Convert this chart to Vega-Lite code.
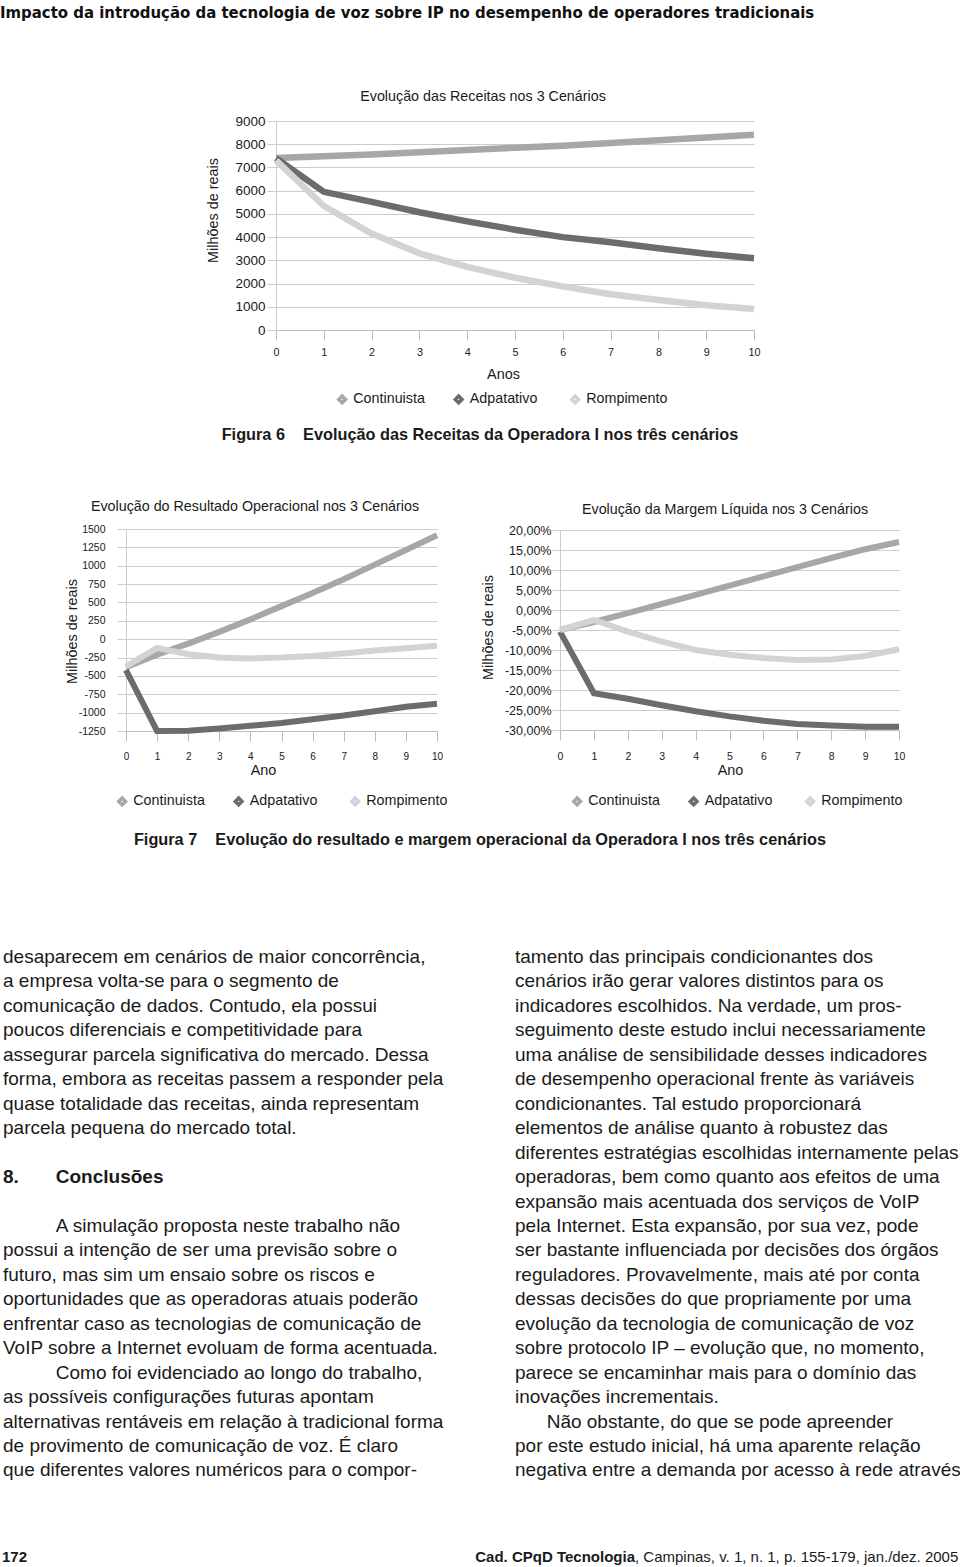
{
  "$schema": "https://vega.github.io/schema/vega-lite/v6.json",
  "padding": 0,
  "spacing": 0,
  "bounds": "flush",
  "resolve": {"scale": {"color": "independent"}, "legend": {"color": "independent"}},
  "config": {
    "view": {"stroke": null},
    "font": "Liberation Sans",
    "axis": {"labelFont": "Liberation Sans", "titleFont": "Liberation Sans", "labelColor": "#1a1a1a", "titleColor": "#1a1a1a", "titleFontWeight": "normal", "gridColor": "#cccccc", "domainColor": "#bdbdbd", "tickColor": "#bdbdbd", "labelFlush": false},
    "title": {"font": "Liberation Sans", "color": "#1a1a1a", "fontWeight": "normal"},
    "legend": {"orient": "none", "direction": "horizontal", "title": null, "symbolType": "diamond", "symbolSize": 45, "symbolStrokeWidth": 3.5, "labelFont": "Liberation Sans", "labelFontSize": 14.3, "labelColor": "#1a1a1a", "labelOffset": 4, "columnPadding": 12.5, "gridAlign": "all", "padding": 0}
  },
  "vconcat": [
    {
      "width": 960, "height": 121,
      "data": {"values": [{"t": ""}]},
      "mark": {"type": "text", "text": ""},
      "title": {"text": "Impacto da introdução da tecnologia de voz sobre IP no desempenho de operadores tradicionais", "anchor": "start", "frame": "group", "orient": "top", "offset": -22, "font": "Liberation Sans Narrow, DejaVu Sans Condensed, Liberation Sans", "fontSize": 16.6, "fontWeight": "bold", "color": "#111111"}
    },
    {
      "width": 960, "height": 209,
      "title": {"text": "Evolução das Receitas nos 3 Cenários", "anchor": "middle", "frame": "group", "offset": 10, "fontSize": 14.3, "dx": 3},
      "data": {"values": [
        {"cenario": "Continuista", "ano": 0, "valor": 7410}, {"cenario": "Continuista", "ano": 1, "valor": 7480}, {"cenario": "Continuista", "ano": 2, "valor": 7560}, {"cenario": "Continuista", "ano": 3, "valor": 7650}, {"cenario": "Continuista", "ano": 4, "valor": 7750}, {"cenario": "Continuista", "ano": 5, "valor": 7850}, {"cenario": "Continuista", "ano": 6, "valor": 7930}, {"cenario": "Continuista", "ano": 7, "valor": 8050}, {"cenario": "Continuista", "ano": 8, "valor": 8170}, {"cenario": "Continuista", "ano": 9, "valor": 8290}, {"cenario": "Continuista", "ano": 10, "valor": 8410},
        {"cenario": "Adpatativo", "ano": 0, "valor": 7400}, {"cenario": "Adpatativo", "ano": 1, "valor": 5950}, {"cenario": "Adpatativo", "ano": 2, "valor": 5520}, {"cenario": "Adpatativo", "ano": 3, "valor": 5070}, {"cenario": "Adpatativo", "ano": 4, "valor": 4680}, {"cenario": "Adpatativo", "ano": 5, "valor": 4320}, {"cenario": "Adpatativo", "ano": 6, "valor": 4000}, {"cenario": "Adpatativo", "ano": 7, "valor": 3780}, {"cenario": "Adpatativo", "ano": 8, "valor": 3520}, {"cenario": "Adpatativo", "ano": 9, "valor": 3280}, {"cenario": "Adpatativo", "ano": 10, "valor": 3090},
        {"cenario": "Rompimento", "ano": 0, "valor": 7300}, {"cenario": "Rompimento", "ano": 1, "valor": 5340}, {"cenario": "Rompimento", "ano": 2, "valor": 4150}, {"cenario": "Rompimento", "ano": 3, "valor": 3300}, {"cenario": "Rompimento", "ano": 4, "valor": 2720}, {"cenario": "Rompimento", "ano": 5, "valor": 2250}, {"cenario": "Rompimento", "ano": 6, "valor": 1880}, {"cenario": "Rompimento", "ano": 7, "valor": 1540}, {"cenario": "Rompimento", "ano": 8, "valor": 1290}, {"cenario": "Rompimento", "ano": 9, "valor": 1070}, {"cenario": "Rompimento", "ano": 10, "valor": 900}
      ]},
      "mark": {"type": "line", "strokeWidth": 6.5},
      "encoding": {
        "x": {"field": "ano", "type": "quantitative", "scale": {"domain": [0, 10], "range": [276, 754], "nice": false, "zero": false},
          "axis": {"values": [0, 1, 2, 3, 4, 5, 6, 7, 8, 9, 10], "title": "Anos", "grid": false, "tickSize": 10, "labelFontSize": 10.8, "labelPadding": 6, "titleFontSize": 14.4, "titleX": 503, "titleY": 44, "titleBaseline": "middle"}},
        "y": {"field": "valor", "type": "quantitative", "scale": {"domain": [0, 9000], "nice": false},
          "axis": {"values": [0, 1000, 2000, 3000, 4000, 5000, 6000, 7000, 8000, 9000], "labelExpr": "'' + datum.value", "offset": -276, "tickSize": 9, "tickColor": "#cccccc", "domainColor": "#cccccc", "labelFontSize": 13.5, "labelPadding": 2, "title": "Milhões de reais", "titleFontSize": 14.4, "titleX": -63, "titleY": 89, "titleBaseline": "middle", "titleAngle": -90}},
        "color": {"field": "cenario", "type": "nominal", "scale": {"domain": ["Continuista", "Adpatativo", "Rompimento"], "range": ["#a7a7a9", "#6c6c6e", "#d3d3d3"]},
          "legend": {"legendX": 335, "legendY": 271}}
      }
    },
    {
      "width": 960, "height": 199,
      "data": {"values": [{"t": ""}]},
      "mark": {"type": "text", "text": ""},
      "title": {"text": "Figura 6\u00a0\u00a0\u00a0\u00a0Evolução das Receitas da Operadora I nos três cenários", "anchor": "middle", "frame": "group", "orient": "top", "offset": -113, "fontSize": 16.3, "fontWeight": "bold"}
    },
    {
      "width": 960, "height": 202,
      "title": {"text": "Evolução do Resultado Operacional nos 3 Cenários", "anchor": "middle", "frame": "group", "offset": 9, "fontSize": 14.3, "dx": -225},
      "data": {"values": [
        {"cenario": "Continuista", "ano": 0, "valor": -380}, {"cenario": "Continuista", "ano": 1, "valor": -210}, {"cenario": "Continuista", "ano": 2, "valor": -60}, {"cenario": "Continuista", "ano": 3, "valor": 100}, {"cenario": "Continuista", "ano": 4, "valor": 270}, {"cenario": "Continuista", "ano": 5, "valor": 450}, {"cenario": "Continuista", "ano": 6, "valor": 630}, {"cenario": "Continuista", "ano": 7, "valor": 815}, {"cenario": "Continuista", "ano": 8, "valor": 1015}, {"cenario": "Continuista", "ano": 9, "valor": 1215}, {"cenario": "Continuista", "ano": 10, "valor": 1415},
        {"cenario": "Adpatativo", "ano": 0, "valor": -420}, {"cenario": "Adpatativo", "ano": 1, "valor": -1250}, {"cenario": "Adpatativo", "ano": 2, "valor": -1245}, {"cenario": "Adpatativo", "ano": 3, "valor": -1215}, {"cenario": "Adpatativo", "ano": 4, "valor": -1180}, {"cenario": "Adpatativo", "ano": 5, "valor": -1140}, {"cenario": "Adpatativo", "ano": 6, "valor": -1090}, {"cenario": "Adpatativo", "ano": 7, "valor": -1040}, {"cenario": "Adpatativo", "ano": 8, "valor": -980}, {"cenario": "Adpatativo", "ano": 9, "valor": -920}, {"cenario": "Adpatativo", "ano": 10, "valor": -880},
        {"cenario": "Rompimento", "ano": 0, "valor": -370}, {"cenario": "Rompimento", "ano": 1, "valor": -120}, {"cenario": "Rompimento", "ano": 2, "valor": -205}, {"cenario": "Rompimento", "ano": 3, "valor": -250}, {"cenario": "Rompimento", "ano": 4, "valor": -262}, {"cenario": "Rompimento", "ano": 5, "valor": -250}, {"cenario": "Rompimento", "ano": 6, "valor": -228}, {"cenario": "Rompimento", "ano": 7, "valor": -195}, {"cenario": "Rompimento", "ano": 8, "valor": -155}, {"cenario": "Rompimento", "ano": 9, "valor": -125}, {"cenario": "Rompimento", "ano": 10, "valor": -90}
      ]},
      "mark": {"type": "line", "strokeWidth": 6},
      "encoding": {
        "x": {"field": "ano", "type": "quantitative", "scale": {"domain": [0, 10], "range": [126, 437], "nice": false, "zero": false},
          "axis": {"values": [0, 1, 2, 3, 4, 5, 6, 7, 8, 9, 10], "title": "Ano", "grid": false, "tickSize": 10, "labelFontSize": 10, "labelPadding": 10, "titleFontSize": 14.4, "titleX": 263, "titleY": 39, "titleBaseline": "middle"}},
        "y": {"field": "valor", "type": "quantitative", "scale": {"domain": [-1250, 1500], "nice": false, "zero": false},
          "axis": {"values": [-1250, -1000, -750, -500, -250, 0, 250, 500, 750, 1000, 1250, 1500], "labelExpr": "'' + datum.value", "offset": -126, "tickSize": 9, "tickColor": "#cccccc", "domainColor": "#cccccc", "labelFontSize": 10.5, "labelPadding": 12, "title": "Milhões de reais", "titleFontSize": 14.4, "titleX": -54, "titleY": 102, "titleBaseline": "middle", "titleAngle": -90}},
        "color": {"field": "cenario", "type": "nominal", "scale": {"domain": ["Continuista", "Adpatativo", "Rompimento"], "range": ["#a7a7a9", "#6c6c6e", "#d3d3d3"]},
          "legend": {"legendX": 115, "legendY": 265}}
      }
    },
    {
      "width": 960, "height": 1,
      "title": {"text": "Evolução da Margem Líquida nos 3 Cenários", "anchor": "middle", "frame": "group", "offset": 7, "fontSize": 14.3, "dx": 245},
      "data": {"values": [
        {"cenario": "Continuista", "ano": 0, "valor": -5}, {"cenario": "Continuista", "ano": 1, "valor": -3}, {"cenario": "Continuista", "ano": 2, "valor": -0.8}, {"cenario": "Continuista", "ano": 3, "valor": 1.5}, {"cenario": "Continuista", "ano": 4, "valor": 3.8}, {"cenario": "Continuista", "ano": 5, "valor": 6.1}, {"cenario": "Continuista", "ano": 6, "valor": 8.4}, {"cenario": "Continuista", "ano": 7, "valor": 10.7}, {"cenario": "Continuista", "ano": 8, "valor": 13}, {"cenario": "Continuista", "ano": 9, "valor": 15.2}, {"cenario": "Continuista", "ano": 10, "valor": 17},
        {"cenario": "Adpatativo", "ano": 0, "valor": -5.4}, {"cenario": "Adpatativo", "ano": 1, "valor": -20.8}, {"cenario": "Adpatativo", "ano": 2, "valor": -22.2}, {"cenario": "Adpatativo", "ano": 3, "valor": -23.8}, {"cenario": "Adpatativo", "ano": 4, "valor": -25.3}, {"cenario": "Adpatativo", "ano": 5, "valor": -26.6}, {"cenario": "Adpatativo", "ano": 6, "valor": -27.7}, {"cenario": "Adpatativo", "ano": 7, "valor": -28.5}, {"cenario": "Adpatativo", "ano": 8, "valor": -28.9}, {"cenario": "Adpatativo", "ano": 9, "valor": -29.2}, {"cenario": "Adpatativo", "ano": 10, "valor": -29.2},
        {"cenario": "Rompimento", "ano": 0, "valor": -5}, {"cenario": "Rompimento", "ano": 1, "valor": -2.5}, {"cenario": "Rompimento", "ano": 2, "valor": -5.4}, {"cenario": "Rompimento", "ano": 3, "valor": -7.9}, {"cenario": "Rompimento", "ano": 4, "valor": -10}, {"cenario": "Rompimento", "ano": 5, "valor": -11.2}, {"cenario": "Rompimento", "ano": 6, "valor": -12}, {"cenario": "Rompimento", "ano": 7, "valor": -12.5}, {"cenario": "Rompimento", "ano": 8, "valor": -12.4}, {"cenario": "Rompimento", "ano": 9, "valor": -11.5}, {"cenario": "Rompimento", "ano": 10, "valor": -9.8}
      ]},
      "mark": {"type": "line", "strokeWidth": 6},
      "encoding": {
        "x": {"field": "ano", "type": "quantitative", "scale": {"domain": [0, 10], "range": [560, 899], "nice": false, "zero": false},
          "axis": {"values": [0, 1, 2, 3, 4, 5, 6, 7, 8, 9, 10], "title": "Ano", "grid": false, "offset": -2, "tickSize": 10, "labelFontSize": 10.5, "labelPadding": 11, "titleFontSize": 14.4, "titleX": 730, "titleY": 40, "titleBaseline": "middle"}},
        "y": {"field": "valor", "type": "quantitative", "scale": {"domain": [-30, 20], "range": [-1, -201], "nice": false, "zero": false},
          "axis": {"values": [-30, -25, -20, -15, -10, -5, 0, 5, 10, 15, 20], "labelExpr": "datum.value + ',00%'", "offset": -560, "tickSize": 8, "tickColor": "#cccccc", "domainColor": "#cccccc", "labelFontSize": 12.5, "labelPadding": 1, "title": "Milhões de reais", "titleFontSize": 14.4, "titleX": -72, "titleY": -104, "titleBaseline": "middle", "titleAngle": -90}},
        "color": {"field": "cenario", "type": "nominal", "scale": {"domain": ["Continuista", "Adpatativo", "Rompimento"], "range": ["#a7a7a9", "#6c6c6e", "#d3d3d3"]},
          "legend": {"legendX": 570, "legendY": 63}}
      }
    },
    {
      "width": 960, "height": 810,
      "title": {"text": "Figura 7\u00a0\u00a0\u00a0\u00a0Evolução do resultado e margem operacional da Operadora I nos três cenários", "anchor": "middle", "frame": "group", "orient": "top", "offset": -116, "fontSize": 16.3, "fontWeight": "bold"},
      "data": {"values": [
        {"col": 0, "linha": 0, "tipo": "corpo", "texto": "desaparecem em cenários de maior concorrência,"},
        {"col": 0, "linha": 1, "tipo": "corpo", "texto": "a empresa volta-se para o segmento de"},
        {"col": 0, "linha": 2, "tipo": "corpo", "texto": "comunicação de dados. Contudo, ela possui"},
        {"col": 0, "linha": 3, "tipo": "corpo", "texto": "poucos diferenciais e competitividade para"},
        {"col": 0, "linha": 4, "tipo": "corpo", "texto": "assegurar parcela significativa do mercado. Dessa"},
        {"col": 0, "linha": 5, "tipo": "corpo", "texto": "forma, embora as receitas passem a responder pela"},
        {"col": 0, "linha": 6, "tipo": "corpo", "texto": "quase totalidade das receitas, ainda representam"},
        {"col": 0, "linha": 7, "tipo": "corpo", "texto": "parcela pequena do mercado total."},
        {"col": 0, "linha": 9, "tipo": "secao", "texto": "8.\u00a0\u00a0\u00a0\u00a0\u00a0\u00a0\u00a0Conclusões"},
        {"col": 0, "linha": 11, "tipo": "corpo", "texto": "\u200b\u00a0\u00a0\u00a0\u00a0\u00a0\u00a0\u00a0\u00a0\u00a0\u00a0A simulação proposta neste trabalho não"},
        {"col": 0, "linha": 12, "tipo": "corpo", "texto": "possui a intenção de ser uma previsão sobre o"},
        {"col": 0, "linha": 13, "tipo": "corpo", "texto": "futuro, mas sim um ensaio sobre os riscos e"},
        {"col": 0, "linha": 14, "tipo": "corpo", "texto": "oportunidades que as operadoras atuais poderão"},
        {"col": 0, "linha": 15, "tipo": "corpo", "texto": "enfrentar caso as tecnologias de comunicação de"},
        {"col": 0, "linha": 16, "tipo": "corpo", "texto": "VoIP sobre a Internet evoluam de forma acentuada."},
        {"col": 0, "linha": 17, "tipo": "corpo", "texto": "\u200b\u00a0\u00a0\u00a0\u00a0\u00a0\u00a0\u00a0\u00a0\u00a0\u00a0Como foi evidenciado ao longo do trabalho,"},
        {"col": 0, "linha": 18, "tipo": "corpo", "texto": "as possíveis configurações futuras apontam"},
        {"col": 0, "linha": 19, "tipo": "corpo", "texto": "alternativas rentáveis em relação à tradicional forma"},
        {"col": 0, "linha": 20, "tipo": "corpo", "texto": "de provimento de comunicação de voz. É claro"},
        {"col": 0, "linha": 21, "tipo": "corpo", "texto": "que diferentes valores numéricos para o compor-"},
        {"col": 1, "linha": 0, "tipo": "corpo", "texto": "tamento das principais condicionantes dos"},
        {"col": 1, "linha": 1, "tipo": "corpo", "texto": "cenários irão gerar valores distintos para os"},
        {"col": 1, "linha": 2, "tipo": "corpo", "texto": "indicadores escolhidos. Na verdade, um pros-"},
        {"col": 1, "linha": 3, "tipo": "corpo", "texto": "seguimento deste estudo inclui necessariamente"},
        {"col": 1, "linha": 4, "tipo": "corpo", "texto": "uma análise de sensibilidade desses indicadores"},
        {"col": 1, "linha": 5, "tipo": "corpo", "texto": "de desempenho operacional frente às variáveis"},
        {"col": 1, "linha": 6, "tipo": "corpo", "texto": "condicionantes. Tal estudo proporcionará"},
        {"col": 1, "linha": 7, "tipo": "corpo", "texto": "elementos de análise quanto à robustez das"},
        {"col": 1, "linha": 8, "tipo": "corpo", "texto": "diferentes estratégias escolhidas internamente pelas"},
        {"col": 1, "linha": 9, "tipo": "corpo", "texto": "operadoras, bem como quanto aos efeitos de uma"},
        {"col": 1, "linha": 10, "tipo": "corpo", "texto": "expansão mais acentuada dos serviços de VoIP"},
        {"col": 1, "linha": 11, "tipo": "corpo", "texto": "pela Internet. Esta expansão, por sua vez, pode"},
        {"col": 1, "linha": 12, "tipo": "corpo", "texto": "ser bastante influenciada por decisões dos órgãos"},
        {"col": 1, "linha": 13, "tipo": "corpo", "texto": "reguladores. Provavelmente, mais até por conta"},
        {"col": 1, "linha": 14, "tipo": "corpo", "texto": "dessas decisões do que propriamente por uma"},
        {"col": 1, "linha": 15, "tipo": "corpo", "texto": "evolução da tecnologia de comunicação de voz"},
        {"col": 1, "linha": 16, "tipo": "corpo", "texto": "sobre protocolo IP – evolução que, no momento,"},
        {"col": 1, "linha": 17, "tipo": "corpo", "texto": "parece se encaminhar mais para o domínio das"},
        {"col": 1, "linha": 18, "tipo": "corpo", "texto": "inovações incrementais."},
        {"col": 1, "linha": 19, "tipo": "corpo", "texto": "\u200b\u00a0\u00a0\u00a0\u00a0\u00a0\u00a0Não obstante, do que se pode apreender"},
        {"col": 1, "linha": 20, "tipo": "corpo", "texto": "por este estudo inicial, há uma aparente relação"},
        {"col": 1, "linha": 21, "tipo": "corpo", "texto": "negativa entre a demanda por acesso à rede através"}
      ]},
      "encoding": {
        "x": {"field": "col", "type": "quantitative", "scale": {"domain": [0, 1], "range": [3, 515], "nice": false, "zero": false}, "axis": null},
        "y": {"field": "linha", "type": "quantitative", "scale": {"domain": [0, 21], "range": [225, 738.45], "nice": false, "zero": false}, "axis": null},
        "text": {"field": "texto", "type": "nominal"}
      },
      "layer": [
        {"transform": [{"filter": "datum.tipo === 'corpo'"}], "mark": {"type": "text", "align": "left", "baseline": "middle", "fontSize": 19, "color": "#1a1a1a", "font": "Liberation Sans"}},
        {"transform": [{"filter": "datum.tipo === 'secao'"}], "mark": {"type": "text", "align": "left", "baseline": "middle", "fontSize": 19, "fontWeight": "bold", "color": "#1a1a1a", "font": "Liberation Sans"}}
      ]
    },
    {
      "width": 960, "height": 30,
      "data": {"values": [
        {"ancora": "pagina", "tipo": "pagina", "texto": "172"},
        {"ancora": "juncao", "tipo": "revista", "texto": "Cad. CPqD Tecnologia"},
        {"ancora": "juncao", "tipo": "resto", "texto": ", Campinas, v. 1, n. 1, p. 155-179, jan./dez. 2005"}
      ]},
      "encoding": {
        "x": {"field": "ancora", "type": "nominal", "scale": {"type": "point", "domain": ["pagina", "juncao"], "range": [2, 635], "padding": 0}, "axis": null},
        "text": {"field": "texto", "type": "nominal"}
      },
      "layer": [
        {"transform": [{"filter": "datum.tipo === 'pagina'"}], "mark": {"type": "text", "align": "left", "baseline": "middle", "fontSize": 15, "fontWeight": "bold", "color": "#1a1a1a", "font": "Liberation Sans"}},
        {"transform": [{"filter": "datum.tipo === 'revista'"}], "mark": {"type": "text", "align": "right", "baseline": "middle", "fontSize": 15, "fontWeight": "bold", "color": "#1a1a1a", "font": "Liberation Sans"}},
        {"transform": [{"filter": "datum.tipo === 'resto'"}], "mark": {"type": "text", "align": "left", "baseline": "middle", "fontSize": 15, "color": "#1a1a1a", "font": "Liberation Sans"}}
      ]
    }
  ]
}
